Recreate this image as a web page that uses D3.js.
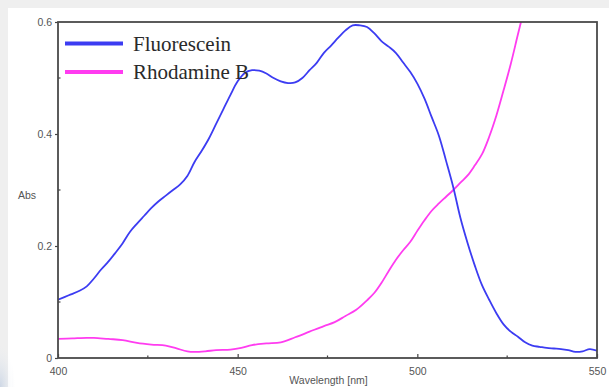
<!DOCTYPE html>
<html>
<head>
<meta charset="utf-8">
<script src="https://cdn.jsdelivr.net/npm/d3@7"></script>
<style>
  html, body { margin: 0; padding: 0; background: #ffffff; }
  svg { display: block; }
</style>
</head>
<body>
<svg id="chart" width="609" height="387"></svg>
<script>
// Absorption spectra, wavelength in nm
const fluoresceinWavelength = [400,403,406,408,410,412,414,416,418,420,422,424,426,428,430,432,434,436,438,440,442,444,446,448,450,452,454,456,458,460,462,464,466,468,470,472,474,476,478,480,482,484,486,488,490,492,494,496,498,500,502,504,506,508,510,512,514,516,518,520,522,524,526,528,530,532,534,536,538,540,542,544,546,548,550];
const fluoresceinAbs = [0.104,0.112,0.120,0.128,0.142,0.158,0.172,0.188,0.205,0.225,0.240,0.254,0.268,0.280,0.290,0.300,0.310,0.325,0.350,0.370,0.392,0.418,0.444,0.470,0.494,0.509,0.514,0.513,0.508,0.500,0.494,0.491,0.492,0.500,0.514,0.527,0.545,0.558,0.572,0.585,0.594,0.594,0.591,0.580,0.566,0.556,0.545,0.528,0.511,0.490,0.463,0.430,0.397,0.352,0.305,0.250,0.205,0.165,0.130,0.104,0.080,0.060,0.047,0.038,0.028,0.022,0.020,0.018,0.017,0.016,0.014,0.011,0.012,0.016,0.013];

const rhodamineWavelength = [400,404,408,410,414,418,422,426,430,433,436,438,441,444,448,451,454,458,462,466,470,474,477,480,483,486,488,490,492,494,496,498,500,502,504,506,508,510,512,514,516,518,520,522,524,526,528,530];
const rhodamineAbs = [0.034,0.035,0.036,0.036,0.034,0.032,0.027,0.024,0.022,0.017,0.012,0.011,0.012,0.014,0.015,0.018,0.023,0.026,0.028,0.037,0.047,0.057,0.064,0.075,0.086,0.103,0.116,0.134,0.155,0.175,0.192,0.207,0.227,0.246,0.263,0.276,0.288,0.300,0.313,0.326,0.344,0.364,0.395,0.433,0.478,0.525,0.578,0.630];

const seriesNames = ["Fluorescein", "Rhodamine B"];
const seriesColors = ["#3c3cf2", "#ff3cf0"];
const xTicks = [400, 450, 500, 550];
const xMinorTicks = [425, 475, 525];
const yTicks = [0, 0.2, 0.4, 0.6];
const yMinorTicks = [0.1, 0.3, 0.5];
const xLabel = "Wavelength [nm]";
const yLabel = "Abs";

const svg = d3.select("#chart");
const W = 609, H = 387;
const plot = { left: 58, right: 597, top: 22, bottom: 358 };

// page backdrop: grey margins and a faint blue wash in the lower-left corner
const defs = svg.append("defs");
const wash = defs.append("radialGradient").attr("id", "wash")
  .attr("cx", 0).attr("cy", 1).attr("r", 0.25);
wash.append("stop").attr("offset", "0%").attr("stop-color", "#c9d4e4").attr("stop-opacity", 0.9);
wash.append("stop").attr("offset", "100%").attr("stop-color", "#e9edf3").attr("stop-opacity", 0);
svg.append("rect").attr("width", W).attr("height", H).attr("fill", "#efefef");
svg.append("rect").attr("x", 8).attr("y", 8).attr("width", W - 8).attr("height", H - 8).attr("fill", "#ffffff");
svg.append("rect").attr("x", 0).attr("y", 220).attr("width", 60).attr("height", 167).attr("fill", "url(#wash)");
svg.append("rect").attr("x", 8).attr("y", 8).attr("width", 4).attr("height", H - 8).attr("fill", "#ffffff").attr("opacity", 0.5);

defs.append("clipPath").attr("id", "plotClip").append("rect")
  .attr("x", plot.left).attr("y", plot.top)
  .attr("width", plot.right - plot.left).attr("height", plot.bottom - plot.top);

const x = d3.scaleLinear().domain([400, 550]).range([plot.left, plot.right]);
const y = d3.scaleLinear().domain([0, 0.6]).range([plot.bottom, plot.top]);

// spectra
const series = [
  fluoresceinWavelength.map((w, i) => [w, fluoresceinAbs[i]]),
  rhodamineWavelength.map((w, i) => [w, rhodamineAbs[i]])
];
const line = d3.line().x(d => x(d[0])).y(d => y(d[1])).curve(d3.curveCatmullRom.alpha(0.5));
const g = svg.append("g").attr("clip-path", "url(#plotClip)");
series.slice().reverse().forEach((s, k) => {
  const idx = series.length - 1 - k;
  g.append("path").datum(s)
    .attr("fill", "none")
    .attr("stroke", seriesColors[idx])
    .attr("stroke-width", 1.8)
    .attr("stroke-linejoin", "round")
    .attr("d", line);
});

// axes
const tickFont = "Liberation Sans, Arial, sans-serif";
const xAxis = svg.append("g").attr("transform", `translate(0,${plot.bottom})`)
  .call(d3.axisBottom(x).tickValues(xTicks).tickSize(-4).tickPadding(10).tickFormat(d3.format("d")));
const yAxis = svg.append("g").attr("transform", `translate(${plot.left},0)`)
  .call(d3.axisLeft(y).tickValues(yTicks).tickSize(3).tickPadding(3)
    .tickFormat(d => d === 0 ? "0" : d3.format(".1f")(d)));
[xAxis, yAxis].forEach(a => {
  a.select(".domain").remove();
  a.selectAll("line").attr("stroke", "#444").attr("stroke-width", 1.2);
  a.selectAll("text").attr("fill", "#555").attr("font-family", tickFont).attr("font-size", 10.5);
});

svg.append("g").selectAll("line").data(xMinorTicks).join("line")
  .attr("x1", d => x(d)).attr("x2", d => x(d))
  .attr("y1", plot.bottom).attr("y2", plot.bottom - 2.5)
  .attr("stroke", "#444").attr("stroke-width", 1.2);
svg.append("g").selectAll("line").data(yMinorTicks).join("line")
  .attr("x1", plot.left).attr("x2", plot.left + 2.5)
  .attr("y1", d => y(d)).attr("y2", d => y(d))
  .attr("stroke", "#444").attr("stroke-width", 1.2);

// frame
svg.append("rect")
  .attr("x", plot.left).attr("y", plot.top)
  .attr("width", plot.right - plot.left).attr("height", plot.bottom - plot.top)
  .attr("fill", "none").attr("stroke", "#4a4a4a").attr("stroke-width", 1.8);

// axis titles
svg.append("text").attr("x", (plot.left + plot.right) / 2 + 1).attr("y", 384.3)
  .attr("text-anchor", "middle").attr("fill", "#555")
  .attr("font-family", tickFont).attr("font-size", 10.5).text(xLabel);
svg.append("text").attr("x", 27).attr("y", 199)
  .attr("text-anchor", "middle").attr("fill", "#555")
  .attr("font-family", tickFont).attr("font-size", 10.5).text(yLabel);

// legend
const legend = svg.append("g");
seriesNames.forEach((name, i) => {
  const ly = 43.5 + i * 28.5;
  legend.append("line").attr("x1", 65).attr("x2", 123).attr("y1", ly).attr("y2", ly)
    .attr("stroke", seriesColors[i]).attr("stroke-width", 4);
  legend.append("text").attr("x", 133).attr("y", ly + 7)
    .attr("fill", "#2a2a2a").attr("font-family", "Liberation Serif, Times New Roman, serif")
    .attr("font-size", 21).text(name);
});
</script>
</body>
</html>
